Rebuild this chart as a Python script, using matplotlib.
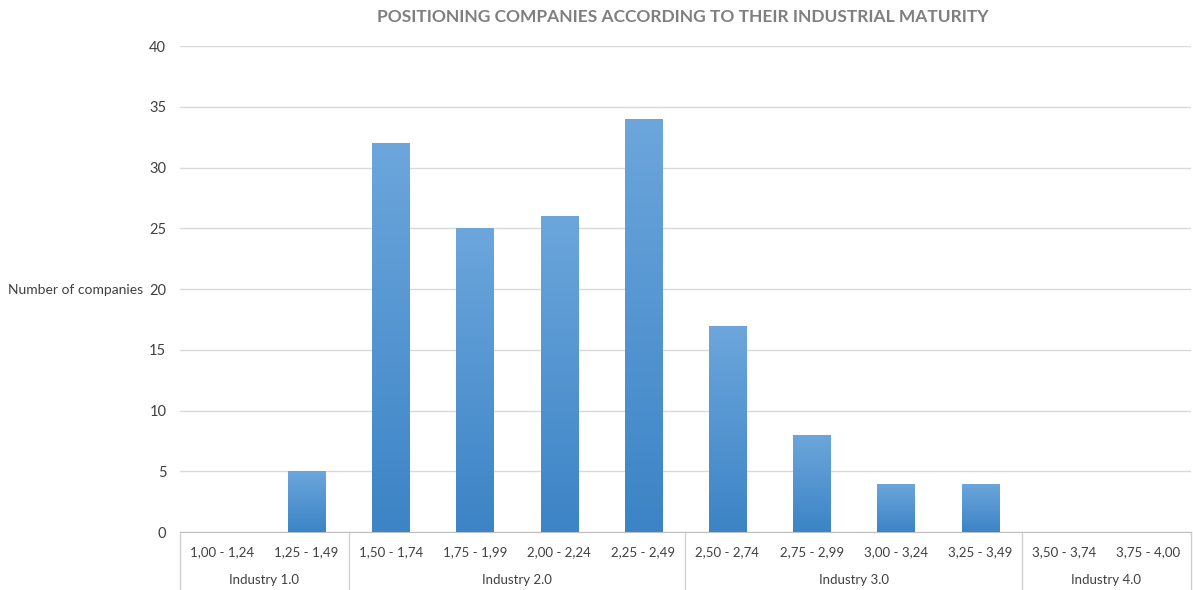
import numpy as np
import matplotlib
matplotlib.use("Agg")
import matplotlib.pyplot as plt

plt.rcParams["font.family"] = ["Lato", "DejaVu Sans"]

ranges = ["1,00 - 1,24", "1,25 - 1,49", "1,50 - 1,74", "1,75 - 1,99", "2,00 - 2,24", "2,25 - 2,49",
          "2,50 - 2,74", "2,75 - 2,99", "3,00 - 3,24", "3,25 - 3,49", "3,50 - 3,74", "3,75 - 4,00"]
companies = [0, 5, 32, 25, 26, 34, 17, 8, 4, 4, 0, 0]
groups = ["Industry 1.0", "Industry 2.0", "Industry 3.0", "Industry 4.0"]
group_sizes = [2, 4, 4, 2]

fig = plt.figure(figsize=(11.93, 5.9), dpi=100)
ax = fig.add_axes([0.151, 0.098, 0.847, 0.824])

x = np.arange(len(ranges))
bars = ax.bar(x, companies, width=0.44, color="#5B9BD5", zorder=2)

# Excel-like vertical gradient inside each bar
grad = np.linspace(0, 1, 256).reshape(-1, 1)
cmap = matplotlib.colors.LinearSegmentedColormap.from_list("g", ["#3C84C6", "#6CA6DC"])
for b in bars:
    h = b.get_height()
    if h <= 0:
        continue
    x0 = b.get_x()
    im = ax.imshow(grad, extent=[x0, x0 + b.get_width(), 0, h], origin="lower",
                   aspect="auto", cmap=cmap, zorder=3)
    im.set_clip_path(b)

ax.set_xlim(-0.5, len(ranges) - 0.5)
ax.set_ylim(0, 40)
ax.set_yticks(range(0, 41, 5))
ax.yaxis.grid(True, color="#D9D9D9", linewidth=1)
ax.set_axisbelow(True)
for s in ["top", "right", "left"]:
    ax.spines[s].set_visible(False)
ax.spines["bottom"].set_color("#BFBFBF")
ax.tick_params(axis="y", length=0, labelsize=10.5, colors="#404040", pad=10)
ax.tick_params(axis="x", length=0, labelsize=9.5, colors="#404040", pad=10)
ax.set_xticks(x)
ax.set_xticklabels(ranges)

# group labels and separators below the axis
trans = ax.get_xaxis_transform()
start = 0
bounds = [-0.5]
for g, n in zip(groups, group_sizes):
    center = start + (n - 1) / 2
    ax.text(center, -0.099, g, transform=trans, ha="center", va="center",
            fontsize=9.5, color="#404040")
    start += n
    bounds.append(start - 0.5)
for bpos in bounds:
    ax.plot([bpos, bpos], [0, -0.14], transform=trans, color="#D0D0D0",
            linewidth=1, clip_on=False)

fig.text(0.12, 0.508, "Number of companies", ha="right", va="center",
         fontsize=10, color="#404040")
fig.text(0.5725, 0.971, "POSITIONING COMPANIES ACCORDING TO THEIR INDUSTRIAL MATURITY",
         ha="center", va="center", fontsize=12.5, fontweight="bold", color="#7F7F7F")

fig.savefig("out.png", dpi=100)
